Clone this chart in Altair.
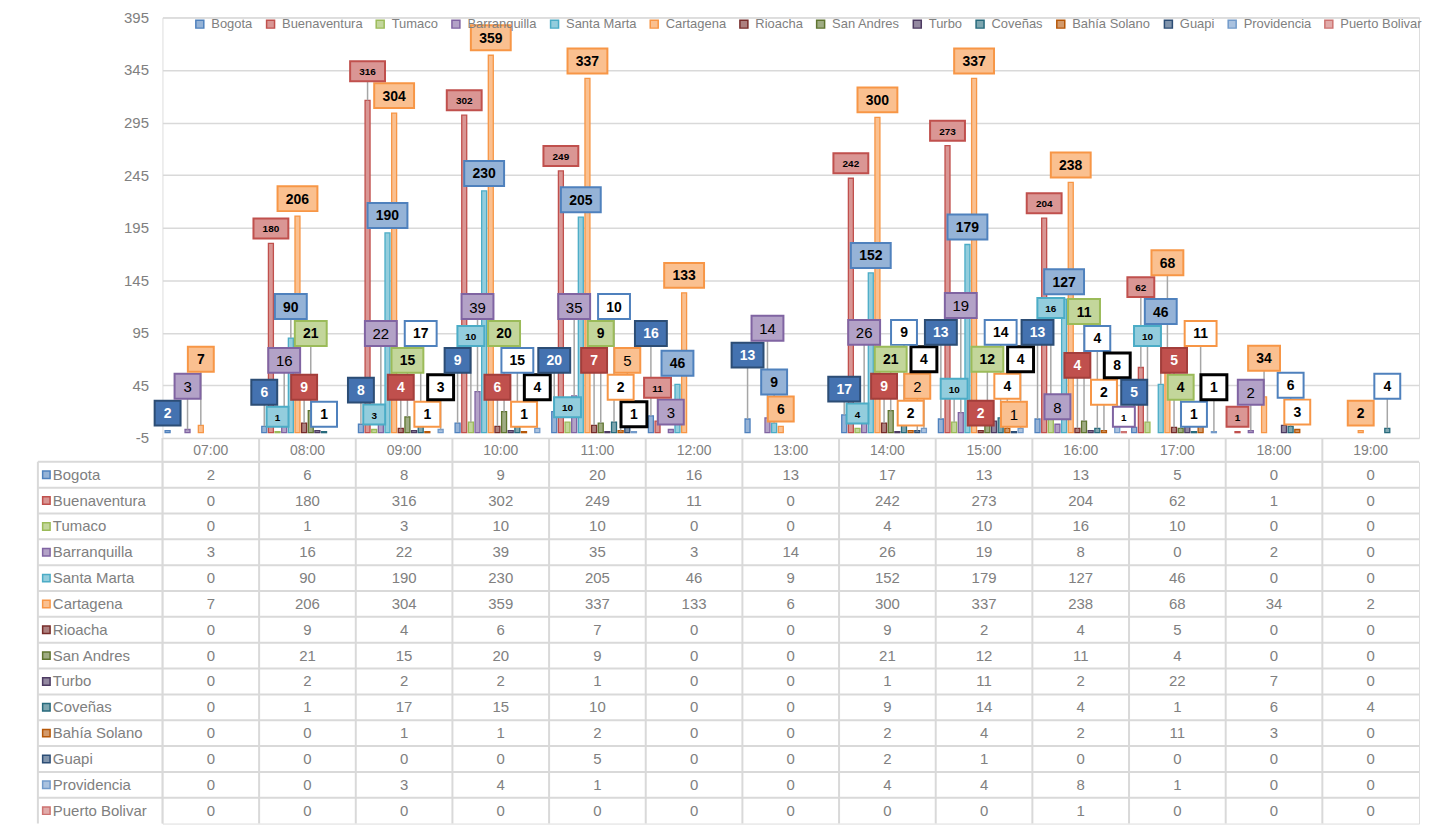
import altair as alt
import pandas as pd

HOURS = ["07:00", "08:00", "09:00", "10:00", "11:00", "12:00", "13:00",
         "14:00", "15:00", "16:00", "17:00", "18:00", "19:00"]
SERIES = ["Bogota", "Buenaventura", "Tumaco", "Barranquilla", "Santa Marta",
          "Cartagena", "Rioacha", "San Andres", "Turbo", "Coveñas",
          "Bahía Solano", "Guapi", "Providencia", "Puerto Bolivar"]

bogota = [2, 6, 8, 9, 20, 16, 13, 17, 13, 13, 5, 0, 0]
buenaventura = [0, 180, 316, 302, 249, 11, 0, 242, 273, 204, 62, 1, 0]
tumaco = [0, 1, 3, 10, 10, 0, 0, 4, 10, 16, 10, 0, 0]
barranquilla = [3, 16, 22, 39, 35, 3, 14, 26, 19, 8, 0, 2, 0]
santa_marta = [0, 90, 190, 230, 205, 46, 9, 152, 179, 127, 46, 0, 0]
cartagena = [7, 206, 304, 359, 337, 133, 6, 300, 337, 238, 68, 34, 2]
rioacha = [0, 9, 4, 6, 7, 0, 0, 9, 2, 4, 5, 0, 0]
san_andres = [0, 21, 15, 20, 9, 0, 0, 21, 12, 11, 4, 0, 0]
turbo = [0, 2, 2, 2, 1, 0, 0, 1, 11, 2, 22, 7, 0]
covenas = [0, 1, 17, 15, 10, 0, 0, 9, 14, 4, 1, 6, 4]
bahia_solano = [0, 0, 1, 1, 2, 0, 0, 2, 4, 2, 11, 3, 0]
guapi = [0, 0, 0, 0, 5, 0, 0, 2, 1, 0, 0, 0, 0]
providencia = [0, 0, 3, 4, 1, 0, 0, 4, 4, 8, 1, 0, 0]
puerto_bolivar = [0, 0, 0, 0, 0, 0, 0, 0, 0, 1, 0, 0, 0]

VALUES = [bogota, buenaventura, tumaco, barranquilla, santa_marta, cartagena,
          rioacha, san_andres, turbo, covenas, bahia_solano, guapi,
          providencia, puerto_bolivar]

Y_TICKS = [-5, 45, 95, 145, 195, 245, 295, 345, 395]

# ---------------- style ----------------
FONT = "Liberation Sans, Arial, sans-serif"
GRAY = "#808080"
GRID = "#d9d9d9"
BASE = ["#4F81BD", "#C0504D", "#9BBB59", "#8064A2", "#4BACC6", "#F79646",
        "#772C2A", "#5F7530", "#4D3B62", "#276A7C", "#B65708", "#2C4D75",
        "#729ACA", "#CD7371"]


def mix(hexc, t):
    r, g, b = int(hexc[1:3], 16), int(hexc[3:5], 16), int(hexc[5:7], 16)
    r, g, b = [round(c + (255 - c) * t) for c in (r, g, b)]
    return "#%02x%02x%02x" % (r, g, b)


FILLS = [mix(c, 0.4) for c in BASE]

# label box styles: fill, stroke, text colour, small font, bold, stroke width
LSTYLE = {
    "Bogota": ("#4472B0", "#2C4D75", "white", False, True, 2),
    "Buenaventura": ("#DA9694", "#C0504D", "black", True, True, 2),
    "Tumaco": ("#93CDDD", "#4BACC6", "black", True, True, 2),
    "Barranquilla": ("#B3A2C7", "#8064A2", "black", False, False, 2),
    "Santa Marta": ("#95B3D7", "#4F81BD", "black", False, True, 2),
    "Cartagena": ("#FAC090", "#F79646", "black", False, True, 2),
    "Rioacha": ("#C0504D", "#A33E3B", "white", False, True, 2),
    "San Andres": ("#C3D69B", "#9BBB59", "black", False, True, 2),
    "Turbo": None,
    "Coveñas": ("white", "#4F81BD", "black", False, True, 2),
    "Bahía Solano": ("white", "#F79646", "black", False, True, 2),
    "Guapi": ("#FAC090", "#F79646", "black", False, False, 2),
    "Providencia": ("white", "black", "black", False, True, 3),
    "Puerto Bolivar": ("white", "#8064A2", "black", True, True, 2),
}

W_CAT = 97.0
PLOT_W = round(13 * W_CAT)
PLOT_H = 422
ROW_H = 25.9
TABLE_H = round(14 * ROW_H)
PI, PO = 0.25, 0.4
K = PLOT_H / 400.0
STEP = W_CAT / (14 - PI + 2 * PO)
BANDW = STEP * (1 - PI)
GAP = 5
BIG_W = {1: 26, 2: 32, 3: 40}
SMALL_W = {1: 22, 2: 27, 3: 35}

# ---------------- data frames ----------------
rows = []
for si, s in enumerate(SERIES):
    for ci, h in enumerate(HOURS):
        rows.append({"hour": h, "series": s, "value": VALUES[si][ci]})
df = pd.DataFrame(rows)
df_bars = df[df["value"] > 0]

# greedy label layout (Excel-like boxed labels with leader lines)
placed = []
lab_rows = []
for ci, h in enumerate(HOURS):
    items = [(VALUES[si][ci], si, s) for si, s in enumerate(SERIES)
             if VALUES[si][ci] > 0 and LSTYLE[s] is not None]
    items.sort(key=lambda t: (t[0], t[1]))
    for v, si, s in items:
        fill, stroke, tcol, small, bold, sw = LSTYLE[s]
        nd = len(str(v))
        w = (SMALL_W if small else BIG_W)[nd]
        hh = 20 if small else 25
        x = ci * W_CAT + STEP * PO + STEP * si + BANDW / 2
        b0 = v * K + GAP
        b = b0
        moved = True
        while moved:
            moved = False
            for (px, pw, pb, ph) in placed:
                if abs(x - px) < (w + pw) / 2 + 1 and b < pb + ph + 1 and b + hh > pb - 1:
                    b = pb + ph + 2
                    moved = True
        placed.append((x, w, b, hh))
        a = hh / w
        lab_rows.append({
            "hour": h, "series": s, "value": v, "label": str(v),
            "cy": (b + hh / 2) / K, "bottom": b / K,
            "leader": (b - b0) > 4,
            "shape": "M-1,-%.4fH1V%.4fH-1Z" % (a, a), "size": w * w,
            "bfill": fill, "bstroke": stroke, "bsw": sw, "tcolor": tcol,
            "fsize": 10 if small else (15 if not bold else 14), "bold": bold,
        })
df_lab = pd.DataFrame(lab_rows)

# ---------------- top panel ----------------
yscale = alt.Scale(domain=[-5, 395], nice=False, zero=False)
xscale = alt.Scale(domain=HOURS, paddingInner=0, paddingOuter=0)
xo = alt.XOffset("series:N", scale=alt.Scale(domain=SERIES, paddingInner=PI, paddingOuter=PO))
x_axis = alt.X("hour:N", scale=xscale, title=None,
               axis=alt.Axis(labelFont=FONT, labelFontSize=14, labelColor=GRAY,
                             labelPadding=6, ticks=False, domain=False, labelAngle=0))
x_plain = alt.X("hour:N", scale=xscale, title=None)

LEG = alt.Legend(orient="none", legendX=31, legendY=0, direction="horizontal",
                 columns=14, title=None, symbolType="square", symbolSize=64,
                 symbolStrokeWidth=1.5, labelFont=FONT, labelFontSize=13,
                 labelColor=GRAY, columnPadding=10, labelOffset=5, padding=0)

bars = alt.Chart(df_bars).mark_bar(strokeWidth=1.3).encode(
    x=x_axis, xOffset=xo,
    y=alt.Y("value:Q", scale=yscale, title=None,
            axis=alt.Axis(values=Y_TICKS, grid=True, gridColor=GRID, gridWidth=1.5,
                          domain=False, ticks=False, labelPadding=14, labelFont=FONT,
                          labelFontSize=15, labelColor=GRAY, labelExpr="'' + datum.value")),
    y2=alt.datum(0),
    fill=alt.Fill("series:N", scale=alt.Scale(domain=SERIES, range=FILLS), legend=LEG),
    stroke=alt.Stroke("series:N", scale=alt.Scale(domain=SERIES, range=BASE), legend=LEG),
)

leaders = alt.Chart(df_lab[df_lab["leader"]]).mark_rule(color="#a6a6a6", strokeWidth=1.5).encode(
    x=x_plain, xOffset=xo,
    y=alt.Y("value:Q", scale=yscale, title=None),
    y2="bottom:Q",
)

boxes = alt.Chart(df_lab).mark_point(filled=True, opacity=1, fillOpacity=1, strokeOpacity=1).encode(
    x=x_plain, xOffset=xo,
    y=alt.Y("cy:Q", scale=yscale, title=None),
    shape=alt.Shape("shape:N", scale=None),
    size=alt.Size("size:Q", scale=None),
    fill=alt.Fill("bfill:N", scale=None),
    stroke=alt.Stroke("bstroke:N", scale=None),
    strokeWidth=alt.StrokeWidth("bsw:Q", scale=None),
)


def label_text(bold):
    return alt.Chart(df_lab[df_lab["bold"] == bold]).mark_text(
        font=FONT, fontWeight="bold" if bold else "normal", baseline="middle", dy=1
    ).encode(
        x=x_plain, xOffset=xo,
        y=alt.Y("cy:Q", scale=yscale, title=None),
        text="label:N",
        color=alt.Color("tcolor:N", scale=None),
        size=alt.Size("fsize:Q", scale=None),
    )


top = alt.layer(bars, leaders, boxes, label_text(True), label_text(False)).properties(
    width=PLOT_W, height=PLOT_H)

# ---------------- data table panel ----------------
df_hours = pd.DataFrame({"hour": HOURS})
df_series = pd.DataFrame({"series": SERIES, "fill": FILLS, "stroke": BASE})
tx = alt.X("hour:N", scale=xscale, axis=None)
yband = alt.Scale(domain=SERIES, paddingInner=0, paddingOuter=0)
ty = alt.Y("series:N", scale=yband, axis=None)

vlines = alt.Chart(df_hours).mark_rule(color=GRID, strokeWidth=2).encode(
    x=alt.X("hour:N", scale=xscale, axis=None, bandPosition=0),
    y=alt.value(-24), y2=alt.value(TABLE_H))
hlines = alt.Chart(df_series).mark_rule(color=GRID, strokeWidth=2).encode(
    y=alt.Y("series:N", scale=yband, axis=None, bandPosition=0),
    x=alt.value(-125), x2=alt.value(PLOT_W))
lborder = alt.Chart(pd.DataFrame({"a": [0]})).mark_rule(color=GRID, strokeWidth=2).encode(
    x=alt.value(-125), y=alt.value(0), y2=alt.value(TABLE_H))
cells = alt.Chart(df).mark_text(font=FONT, fontSize=15, color=GRAY).encode(
    x=tx, y=ty, text="value:Q")
names = alt.Chart(df_series).mark_text(font=FONT, fontSize=15, color=GRAY, align="left").encode(
    x=alt.value(-110), y=ty, text="series:N")
squares = alt.Chart(df_series).mark_point(shape="square", filled=True, size=56, strokeWidth=1.5,
                                          opacity=1).encode(
    x=alt.value(-116.5), y=ty,
    fill=alt.Fill("fill:N", scale=None), stroke=alt.Stroke("stroke:N", scale=None))

table = alt.layer(vlines, hlines, lborder, cells, names, squares).properties(
    width=PLOT_W, height=TABLE_H)

chart = alt.vconcat(top, table, spacing=24, bounds="flush").resolve_scale(
    x="independent", y="independent", fill="independent", stroke="independent"
).properties(
    padding={"left": 28, "top": 0, "right": 0, "bottom": 0}
).configure_view(stroke=None).configure(background="white")

chart.save("out.html", embed_options={"renderer": "svg", "actions": False})
